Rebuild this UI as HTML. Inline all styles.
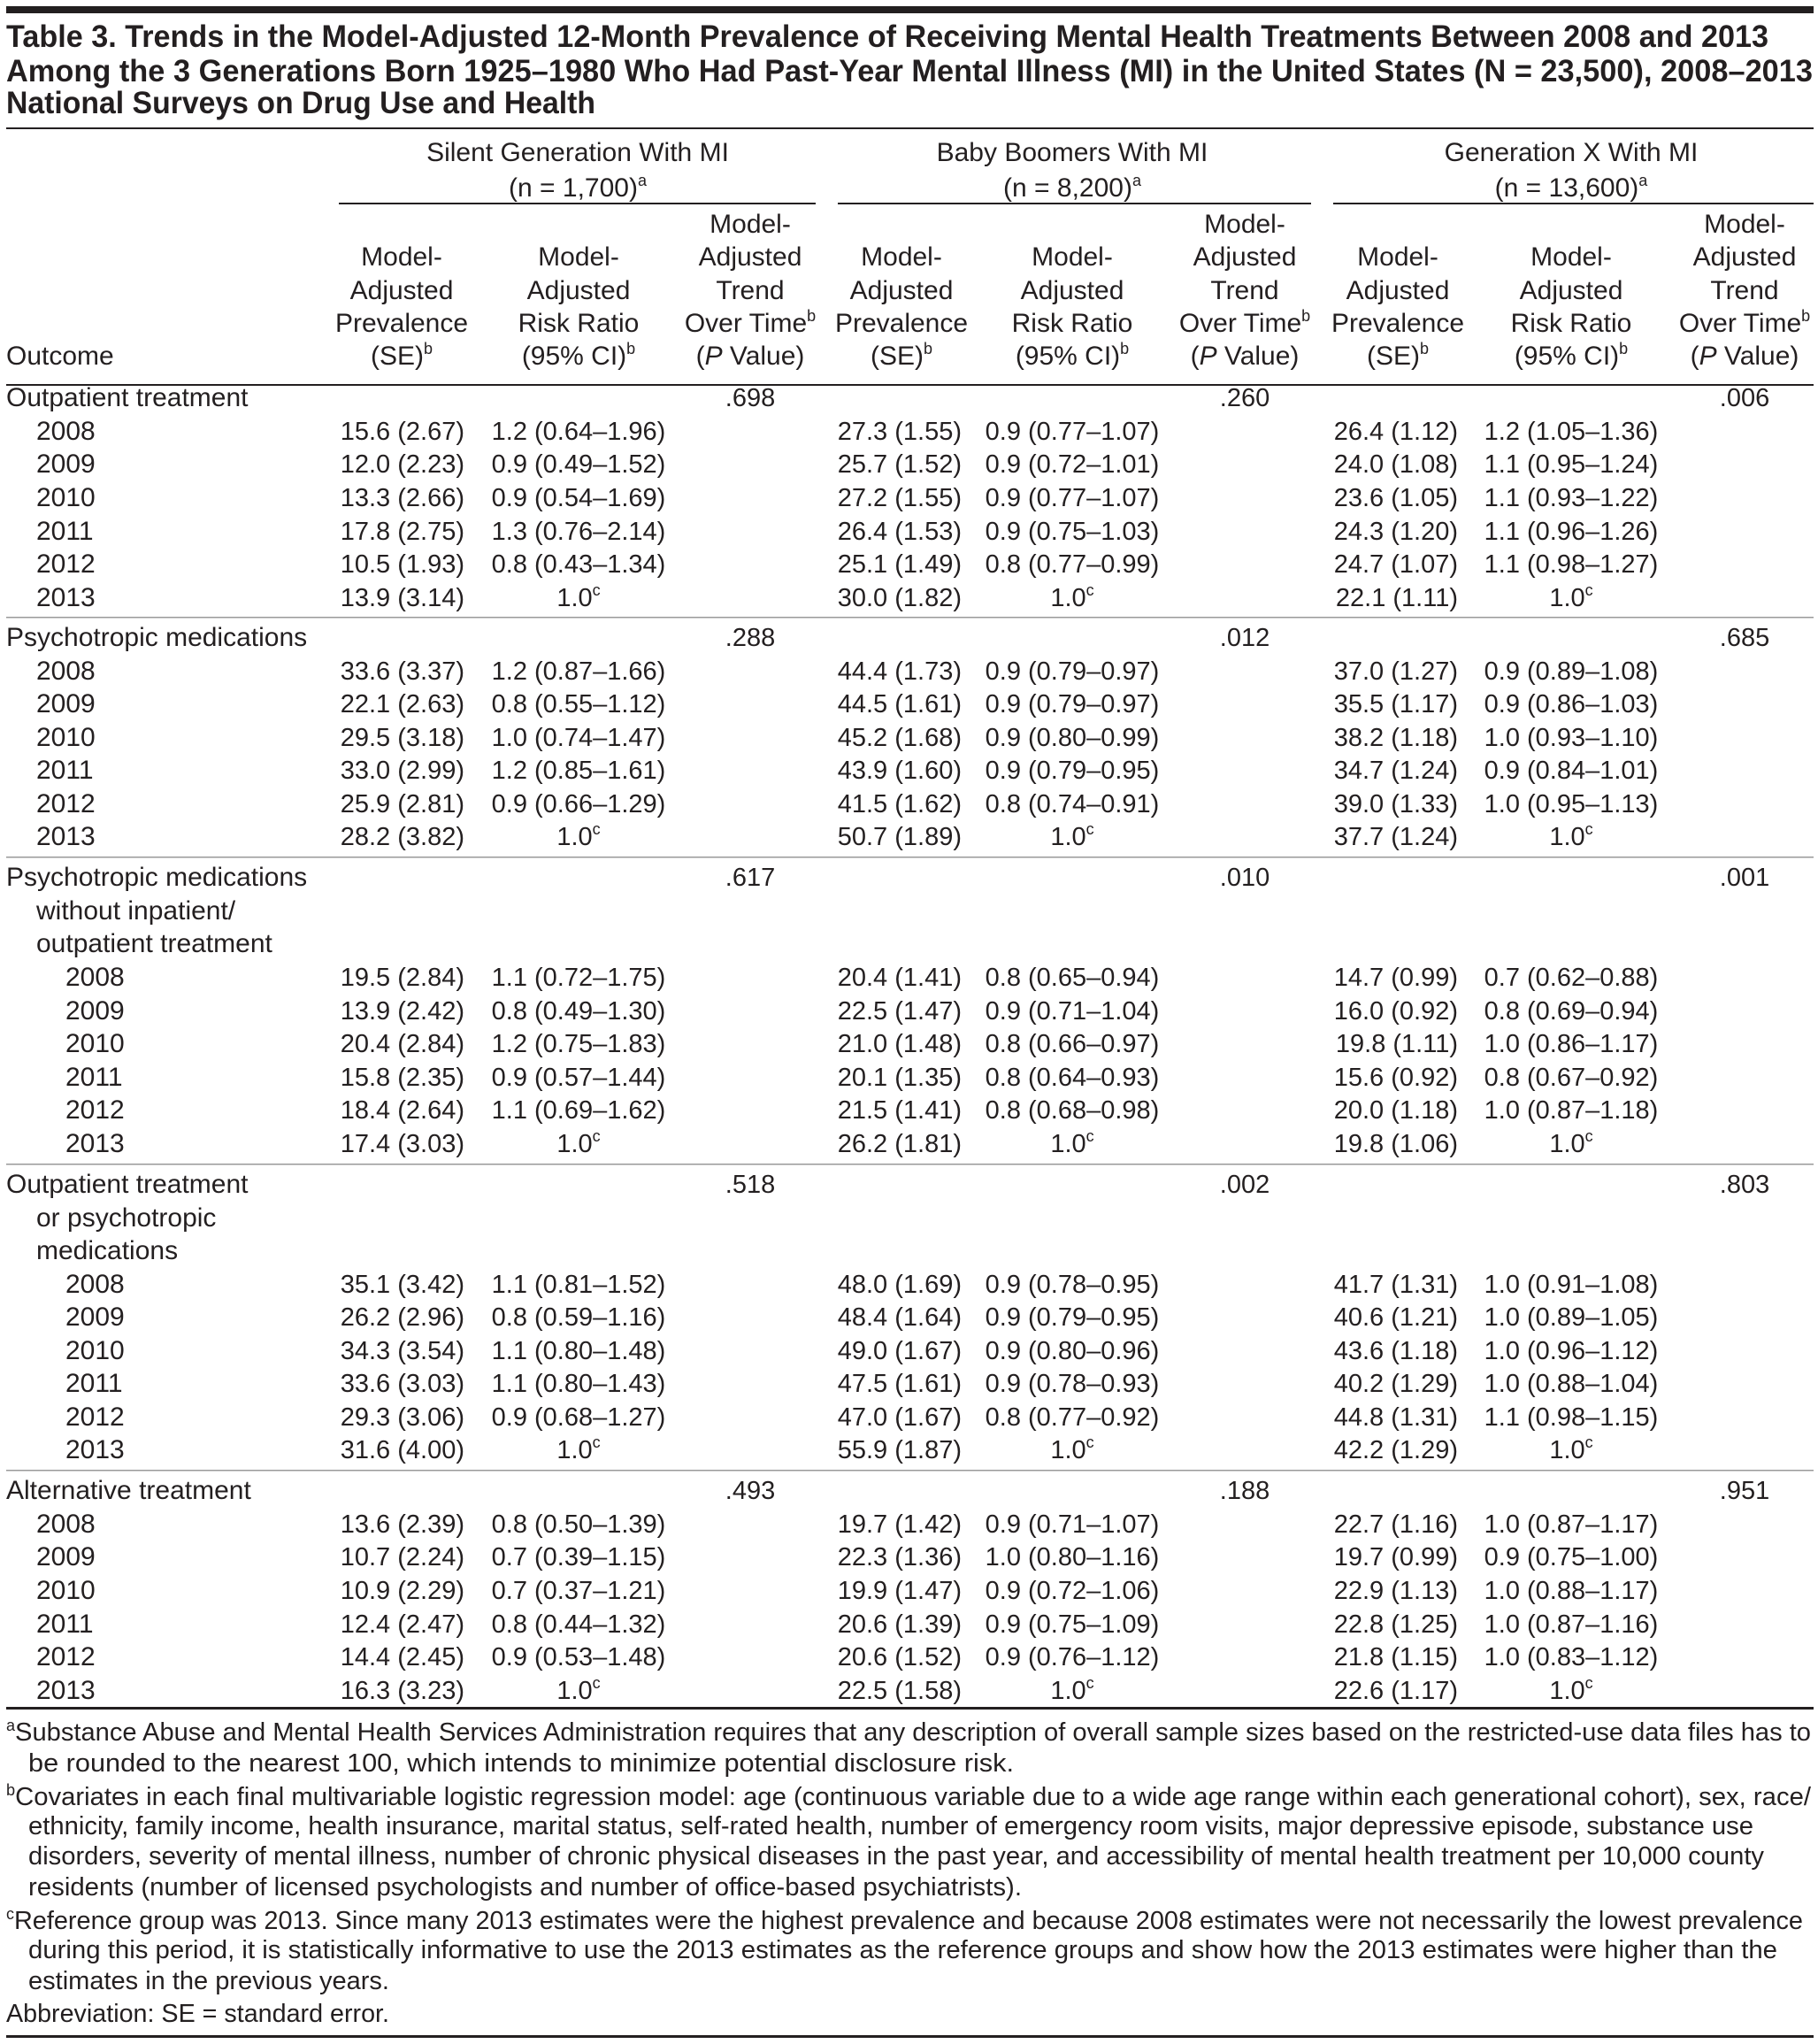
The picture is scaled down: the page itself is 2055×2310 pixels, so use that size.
<!DOCTYPE html>
<html><head><meta charset="utf-8"><style>
html,body{margin:0;padding:0;background:#fff}
svg{display:block}
text{font-family:"Liberation Sans",sans-serif;fill:#231f20}
.r{text-anchor:end}.c{text-anchor:middle}
.t{font-weight:bold;font-size:35px}
.h{font-size:30px}
.l{font-size:30px}
.d{font-size:29px}
.f{font-size:29px}
</style></head><body>
<svg width="2055" height="2310" viewBox="0 0 2055 2310" xmlns="http://www.w3.org/2000/svg">
<rect x="7" y="7" width="2043" height="8" fill="#231f20"/>
<text class="t" x="7" y="53" textLength="1992" lengthAdjust="spacingAndGlyphs">Table 3. Trends in the Model-Adjusted 12-Month Prevalence of Receiving Mental Health Treatments Between 2008 and 2013</text>
<text class="t" x="7" y="92" textLength="2042" lengthAdjust="spacingAndGlyphs">Among the 3 Generations Born 1925–1980 Who Had Past-Year Mental Illness (MI) in the United States (N = 23,500), 2008–2013</text>
<text class="t" x="7" y="128" textLength="666" lengthAdjust="spacingAndGlyphs">National Surveys on Drug Use and Health</text>
<rect x="7" y="144" width="2043" height="2" fill="#231f20"/>

<g class="h">
<text class="c" x="653" y="182">Silent Generation With MI</text>
<text class="c" x="653" y="222">(n = 1,700)<tspan font-size="18" dy="-12">a</tspan></text>
<text class="c" x="1212" y="182">Baby Boomers With MI</text>
<text class="c" x="1212" y="222">(n = 8,200)<tspan font-size="18" dy="-12">a</tspan></text>
<text class="c" x="1776" y="182">Generation X With MI</text>
<text class="c" x="1776" y="222">(n = 13,600)<tspan font-size="18" dy="-12">a</tspan></text>
</g>
<rect x="383" y="229" width="539" height="2" fill="#231f20"/>
<rect x="947" y="229" width="535" height="2" fill="#231f20"/>
<rect x="1507" y="229" width="543" height="2" fill="#231f20"/>

<g class="h">
<text x="7" y="412">Outcome</text>
<text class="c" x="454" y="300">Model-</text><text class="c" x="454" y="338">Adjusted</text><text class="c" x="454" y="375">Prevalence</text><text class="c" x="454" y="412">(SE)<tspan font-size="18" dy="-12">b</tspan></text>
<text class="c" x="654" y="300">Model-</text><text class="c" x="654" y="338">Adjusted</text><text class="c" x="654" y="375">Risk Ratio</text><text class="c" x="654" y="412">(95% CI)<tspan font-size="18" dy="-12">b</tspan></text>
<text class="c" x="848" y="263">Model-</text><text class="c" x="848" y="300">Adjusted</text><text class="c" x="848" y="338">Trend</text><text class="c" x="848" y="375">Over Time<tspan font-size="18" dy="-12">b</tspan></text><text class="c" x="848" y="412">(<tspan font-style="italic">P</tspan> Value)</text>
<text class="c" x="1019" y="300">Model-</text><text class="c" x="1019" y="338">Adjusted</text><text class="c" x="1019" y="375">Prevalence</text><text class="c" x="1019" y="412">(SE)<tspan font-size="18" dy="-12">b</tspan></text>
<text class="c" x="1212" y="300">Model-</text><text class="c" x="1212" y="338">Adjusted</text><text class="c" x="1212" y="375">Risk Ratio</text><text class="c" x="1212" y="412">(95% CI)<tspan font-size="18" dy="-12">b</tspan></text>
<text class="c" x="1407" y="263">Model-</text><text class="c" x="1407" y="300">Adjusted</text><text class="c" x="1407" y="338">Trend</text><text class="c" x="1407" y="375">Over Time<tspan font-size="18" dy="-12">b</tspan></text><text class="c" x="1407" y="412">(<tspan font-style="italic">P</tspan> Value)</text>
<text class="c" x="1580" y="300">Model-</text><text class="c" x="1580" y="338">Adjusted</text><text class="c" x="1580" y="375">Prevalence</text><text class="c" x="1580" y="412">(SE)<tspan font-size="18" dy="-12">b</tspan></text>
<text class="c" x="1776" y="300">Model-</text><text class="c" x="1776" y="338">Adjusted</text><text class="c" x="1776" y="375">Risk Ratio</text><text class="c" x="1776" y="412">(95% CI)<tspan font-size="18" dy="-12">b</tspan></text>
<text class="c" x="1972" y="263">Model-</text><text class="c" x="1972" y="300">Adjusted</text><text class="c" x="1972" y="338">Trend</text><text class="c" x="1972" y="375">Over Time<tspan font-size="18" dy="-12">b</tspan></text><text class="c" x="1972" y="412">(<tspan font-style="italic">P</tspan> Value)</text>
</g>
<rect x="7" y="434" width="2043" height="2" fill="#231f20"/>

<g class="l">
<text x="7" y="459">Outpatient treatment</text>
<text x="41" y="497">2008</text><text x="41" y="534">2009</text><text x="41" y="572">2010</text><text x="41" y="610">2011</text><text x="41" y="647">2012</text><text x="41" y="685">2013</text>
<text x="7" y="730">Psychotropic medications</text>
<text x="41" y="768">2008</text><text x="41" y="805">2009</text><text x="41" y="843">2010</text><text x="41" y="880">2011</text><text x="41" y="918">2012</text><text x="41" y="955">2013</text>
<text x="7" y="1001">Psychotropic medications</text>
<text x="41" y="1039">without  inpatient/</text>
<text x="41" y="1076">outpatient treatment</text>
<text x="74" y="1114">2008</text><text x="74" y="1152">2009</text><text x="74" y="1189">2010</text><text x="74" y="1227">2011</text><text x="74" y="1264">2012</text><text x="74" y="1302">2013</text>
<text x="7" y="1348">Outpatient treatment</text>
<text x="41" y="1386">or psychotropic</text>
<text x="41" y="1423">medications</text>
<text x="74" y="1461">2008</text><text x="74" y="1498">2009</text><text x="74" y="1536">2010</text><text x="74" y="1573">2011</text><text x="74" y="1611">2012</text><text x="74" y="1648">2013</text>
<text x="7" y="1694">Alternative treatment</text>
<text x="41" y="1732">2008</text><text x="41" y="1769">2009</text><text x="41" y="1807">2010</text><text x="41" y="1845">2011</text><text x="41" y="1882">2012</text><text x="41" y="1920">2013</text>
</g>

<rect x="7" y="697" width="2043" height="1.5" fill="#9a9a9a"/>
<rect x="7" y="968" width="2043" height="1.5" fill="#9a9a9a"/>
<rect x="7" y="1315" width="2043" height="1.5" fill="#9a9a9a"/>
<rect x="7" y="1661" width="2043" height="1.5" fill="#9a9a9a"/>
<rect x="7" y="1929" width="2043" height="3" fill="#231f20"/>

<g class="d">
<text class="c" x="848" y="459">.698</text><text class="c" x="1407" y="459">.260</text><text class="c" x="1972" y="459">.006</text>
<text class="r" x="525" y="497">15.6 (2.67)</text><text class="c" x="654" y="497">1.2 (0.64–1.96)</text><text class="r" x="1087" y="497">27.3 (1.55)</text><text class="c" x="1212" y="497">0.9 (0.77–1.07)</text><text class="r" x="1648" y="497">26.4 (1.12)</text><text class="c" x="1776" y="497">1.2 (1.05–1.36)</text>
<text class="r" x="525" y="534">12.0 (2.23)</text><text class="c" x="654" y="534">0.9 (0.49–1.52)</text><text class="r" x="1087" y="534">25.7 (1.52)</text><text class="c" x="1212" y="534">0.9 (0.72–1.01)</text><text class="r" x="1648" y="534">24.0 (1.08)</text><text class="c" x="1776" y="534">1.1 (0.95–1.24)</text>
<text class="r" x="525" y="572">13.3 (2.66)</text><text class="c" x="654" y="572">0.9 (0.54–1.69)</text><text class="r" x="1087" y="572">27.2 (1.55)</text><text class="c" x="1212" y="572">0.9 (0.77–1.07)</text><text class="r" x="1648" y="572">23.6 (1.05)</text><text class="c" x="1776" y="572">1.1 (0.93–1.22)</text>
<text class="r" x="525" y="610">17.8 (2.75)</text><text class="c" x="654" y="610">1.3 (0.76–2.14)</text><text class="r" x="1087" y="610">26.4 (1.53)</text><text class="c" x="1212" y="610">0.9 (0.75–1.03)</text><text class="r" x="1648" y="610">24.3 (1.20)</text><text class="c" x="1776" y="610">1.1 (0.96–1.26)</text>
<text class="r" x="525" y="647">10.5 (1.93)</text><text class="c" x="654" y="647">0.8 (0.43–1.34)</text><text class="r" x="1087" y="647">25.1 (1.49)</text><text class="c" x="1212" y="647">0.8 (0.77–0.99)</text><text class="r" x="1648" y="647">24.7 (1.07)</text><text class="c" x="1776" y="647">1.1 (0.98–1.27)</text>
<text class="r" x="525" y="685">13.9 (3.14)</text><text class="c" x="654" y="685">1.0<tspan font-size="18" dy="-12">c</tspan></text><text class="r" x="1087" y="685">30.0 (1.82)</text><text class="c" x="1212" y="685">1.0<tspan font-size="18" dy="-12">c</tspan></text><text class="r" x="1648" y="685">22.1 (1.11)</text><text class="c" x="1776" y="685">1.0<tspan font-size="18" dy="-12">c</tspan></text>
<text class="c" x="848" y="730">.288</text><text class="c" x="1407" y="730">.012</text><text class="c" x="1972" y="730">.685</text>
<text class="r" x="525" y="768">33.6 (3.37)</text><text class="c" x="654" y="768">1.2 (0.87–1.66)</text><text class="r" x="1087" y="768">44.4 (1.73)</text><text class="c" x="1212" y="768">0.9 (0.79–0.97)</text><text class="r" x="1648" y="768">37.0 (1.27)</text><text class="c" x="1776" y="768">0.9 (0.89–1.08)</text>
<text class="r" x="525" y="805">22.1 (2.63)</text><text class="c" x="654" y="805">0.8 (0.55–1.12)</text><text class="r" x="1087" y="805">44.5 (1.61)</text><text class="c" x="1212" y="805">0.9 (0.79–0.97)</text><text class="r" x="1648" y="805">35.5 (1.17)</text><text class="c" x="1776" y="805">0.9 (0.86–1.03)</text>
<text class="r" x="525" y="843">29.5 (3.18)</text><text class="c" x="654" y="843">1.0 (0.74–1.47)</text><text class="r" x="1087" y="843">45.2 (1.68)</text><text class="c" x="1212" y="843">0.9 (0.80–0.99)</text><text class="r" x="1648" y="843">38.2 (1.18)</text><text class="c" x="1776" y="843">1.0 (0.93–1.10)</text>
<text class="r" x="525" y="880">33.0 (2.99)</text><text class="c" x="654" y="880">1.2 (0.85–1.61)</text><text class="r" x="1087" y="880">43.9 (1.60)</text><text class="c" x="1212" y="880">0.9 (0.79–0.95)</text><text class="r" x="1648" y="880">34.7 (1.24)</text><text class="c" x="1776" y="880">0.9 (0.84–1.01)</text>
<text class="r" x="525" y="918">25.9 (2.81)</text><text class="c" x="654" y="918">0.9 (0.66–1.29)</text><text class="r" x="1087" y="918">41.5 (1.62)</text><text class="c" x="1212" y="918">0.8 (0.74–0.91)</text><text class="r" x="1648" y="918">39.0 (1.33)</text><text class="c" x="1776" y="918">1.0 (0.95–1.13)</text>
<text class="r" x="525" y="955">28.2 (3.82)</text><text class="c" x="654" y="955">1.0<tspan font-size="18" dy="-12">c</tspan></text><text class="r" x="1087" y="955">50.7 (1.89)</text><text class="c" x="1212" y="955">1.0<tspan font-size="18" dy="-12">c</tspan></text><text class="r" x="1648" y="955">37.7 (1.24)</text><text class="c" x="1776" y="955">1.0<tspan font-size="18" dy="-12">c</tspan></text>
<text class="c" x="848" y="1001">.617</text><text class="c" x="1407" y="1001">.010</text><text class="c" x="1972" y="1001">.001</text>
<text class="r" x="525" y="1114">19.5 (2.84)</text><text class="c" x="654" y="1114">1.1 (0.72–1.75)</text><text class="r" x="1087" y="1114">20.4 (1.41)</text><text class="c" x="1212" y="1114">0.8 (0.65–0.94)</text><text class="r" x="1648" y="1114">14.7 (0.99)</text><text class="c" x="1776" y="1114">0.7 (0.62–0.88)</text>
<text class="r" x="525" y="1152">13.9 (2.42)</text><text class="c" x="654" y="1152">0.8 (0.49–1.30)</text><text class="r" x="1087" y="1152">22.5 (1.47)</text><text class="c" x="1212" y="1152">0.9 (0.71–1.04)</text><text class="r" x="1648" y="1152">16.0 (0.92)</text><text class="c" x="1776" y="1152">0.8 (0.69–0.94)</text>
<text class="r" x="525" y="1189">20.4 (2.84)</text><text class="c" x="654" y="1189">1.2 (0.75–1.83)</text><text class="r" x="1087" y="1189">21.0 (1.48)</text><text class="c" x="1212" y="1189">0.8 (0.66–0.97)</text><text class="r" x="1648" y="1189">19.8 (1.11)</text><text class="c" x="1776" y="1189">1.0 (0.86–1.17)</text>
<text class="r" x="525" y="1227">15.8 (2.35)</text><text class="c" x="654" y="1227">0.9 (0.57–1.44)</text><text class="r" x="1087" y="1227">20.1 (1.35)</text><text class="c" x="1212" y="1227">0.8 (0.64–0.93)</text><text class="r" x="1648" y="1227">15.6 (0.92)</text><text class="c" x="1776" y="1227">0.8 (0.67–0.92)</text>
<text class="r" x="525" y="1264">18.4 (2.64)</text><text class="c" x="654" y="1264">1.1 (0.69–1.62)</text><text class="r" x="1087" y="1264">21.5 (1.41)</text><text class="c" x="1212" y="1264">0.8 (0.68–0.98)</text><text class="r" x="1648" y="1264">20.0 (1.18)</text><text class="c" x="1776" y="1264">1.0 (0.87–1.18)</text>
<text class="r" x="525" y="1302">17.4 (3.03)</text><text class="c" x="654" y="1302">1.0<tspan font-size="18" dy="-12">c</tspan></text><text class="r" x="1087" y="1302">26.2 (1.81)</text><text class="c" x="1212" y="1302">1.0<tspan font-size="18" dy="-12">c</tspan></text><text class="r" x="1648" y="1302">19.8 (1.06)</text><text class="c" x="1776" y="1302">1.0<tspan font-size="18" dy="-12">c</tspan></text>
<text class="c" x="848" y="1348">.518</text><text class="c" x="1407" y="1348">.002</text><text class="c" x="1972" y="1348">.803</text>
<text class="r" x="525" y="1461">35.1 (3.42)</text><text class="c" x="654" y="1461">1.1 (0.81–1.52)</text><text class="r" x="1087" y="1461">48.0 (1.69)</text><text class="c" x="1212" y="1461">0.9 (0.78–0.95)</text><text class="r" x="1648" y="1461">41.7 (1.31)</text><text class="c" x="1776" y="1461">1.0 (0.91–1.08)</text>
<text class="r" x="525" y="1498">26.2 (2.96)</text><text class="c" x="654" y="1498">0.8 (0.59–1.16)</text><text class="r" x="1087" y="1498">48.4 (1.64)</text><text class="c" x="1212" y="1498">0.9 (0.79–0.95)</text><text class="r" x="1648" y="1498">40.6 (1.21)</text><text class="c" x="1776" y="1498">1.0 (0.89–1.05)</text>
<text class="r" x="525" y="1536">34.3 (3.54)</text><text class="c" x="654" y="1536">1.1 (0.80–1.48)</text><text class="r" x="1087" y="1536">49.0 (1.67)</text><text class="c" x="1212" y="1536">0.9 (0.80–0.96)</text><text class="r" x="1648" y="1536">43.6 (1.18)</text><text class="c" x="1776" y="1536">1.0 (0.96–1.12)</text>
<text class="r" x="525" y="1573">33.6 (3.03)</text><text class="c" x="654" y="1573">1.1 (0.80–1.43)</text><text class="r" x="1087" y="1573">47.5 (1.61)</text><text class="c" x="1212" y="1573">0.9 (0.78–0.93)</text><text class="r" x="1648" y="1573">40.2 (1.29)</text><text class="c" x="1776" y="1573">1.0 (0.88–1.04)</text>
<text class="r" x="525" y="1611">29.3 (3.06)</text><text class="c" x="654" y="1611">0.9 (0.68–1.27)</text><text class="r" x="1087" y="1611">47.0 (1.67)</text><text class="c" x="1212" y="1611">0.8 (0.77–0.92)</text><text class="r" x="1648" y="1611">44.8 (1.31)</text><text class="c" x="1776" y="1611">1.1 (0.98–1.15)</text>
<text class="r" x="525" y="1648">31.6 (4.00)</text><text class="c" x="654" y="1648">1.0<tspan font-size="18" dy="-12">c</tspan></text><text class="r" x="1087" y="1648">55.9 (1.87)</text><text class="c" x="1212" y="1648">1.0<tspan font-size="18" dy="-12">c</tspan></text><text class="r" x="1648" y="1648">42.2 (1.29)</text><text class="c" x="1776" y="1648">1.0<tspan font-size="18" dy="-12">c</tspan></text>
<text class="c" x="848" y="1694">.493</text><text class="c" x="1407" y="1694">.188</text><text class="c" x="1972" y="1694">.951</text>
<text class="r" x="525" y="1732">13.6 (2.39)</text><text class="c" x="654" y="1732">0.8 (0.50–1.39)</text><text class="r" x="1087" y="1732">19.7 (1.42)</text><text class="c" x="1212" y="1732">0.9 (0.71–1.07)</text><text class="r" x="1648" y="1732">22.7 (1.16)</text><text class="c" x="1776" y="1732">1.0 (0.87–1.17)</text>
<text class="r" x="525" y="1769">10.7 (2.24)</text><text class="c" x="654" y="1769">0.7 (0.39–1.15)</text><text class="r" x="1087" y="1769">22.3 (1.36)</text><text class="c" x="1212" y="1769">1.0 (0.80–1.16)</text><text class="r" x="1648" y="1769">19.7 (0.99)</text><text class="c" x="1776" y="1769">0.9 (0.75–1.00)</text>
<text class="r" x="525" y="1807">10.9 (2.29)</text><text class="c" x="654" y="1807">0.7 (0.37–1.21)</text><text class="r" x="1087" y="1807">19.9 (1.47)</text><text class="c" x="1212" y="1807">0.9 (0.72–1.06)</text><text class="r" x="1648" y="1807">22.9 (1.13)</text><text class="c" x="1776" y="1807">1.0 (0.88–1.17)</text>
<text class="r" x="525" y="1845">12.4 (2.47)</text><text class="c" x="654" y="1845">0.8 (0.44–1.32)</text><text class="r" x="1087" y="1845">20.6 (1.39)</text><text class="c" x="1212" y="1845">0.9 (0.75–1.09)</text><text class="r" x="1648" y="1845">22.8 (1.25)</text><text class="c" x="1776" y="1845">1.0 (0.87–1.16)</text>
<text class="r" x="525" y="1882">14.4 (2.45)</text><text class="c" x="654" y="1882">0.9 (0.53–1.48)</text><text class="r" x="1087" y="1882">20.6 (1.52)</text><text class="c" x="1212" y="1882">0.9 (0.76–1.12)</text><text class="r" x="1648" y="1882">21.8 (1.15)</text><text class="c" x="1776" y="1882">1.0 (0.83–1.12)</text>
<text class="r" x="525" y="1920">16.3 (3.23)</text><text class="c" x="654" y="1920">1.0<tspan font-size="18" dy="-12">c</tspan></text><text class="r" x="1087" y="1920">22.5 (1.58)</text><text class="c" x="1212" y="1920">1.0<tspan font-size="18" dy="-12">c</tspan></text><text class="r" x="1648" y="1920">22.6 (1.17)</text><text class="c" x="1776" y="1920">1.0<tspan font-size="18" dy="-12">c</tspan></text>
</g>

<g class="f">
<text x="7" y="1967" textLength="2040" lengthAdjust="spacingAndGlyphs"><tspan font-size="18" dy="-11">a</tspan><tspan dy="11">Substance Abuse and Mental Health Services Administration requires that any description of overall sample sizes based on the restricted-use data files has to</tspan></text>
<text x="32" y="2002" textLength="1114" lengthAdjust="spacingAndGlyphs">be rounded to the nearest 100, which intends to minimize potential disclosure risk.</text>
<text x="7" y="2040" textLength="2040" lengthAdjust="spacingAndGlyphs"><tspan font-size="18" dy="-11">b</tspan><tspan dy="11">Covariates in each final multivariable logistic regression model: age (continuous variable due to a wide age range within each generational cohort), sex, race/</tspan></text>
<text x="32" y="2073" textLength="1950" lengthAdjust="spacingAndGlyphs">ethnicity, family income, health insurance, marital status, self-rated health, number of emergency room visits, major depressive episode, substance use</text>
<text x="32" y="2107" textLength="1962" lengthAdjust="spacingAndGlyphs">disorders, severity of mental illness, number of chronic physical diseases in the past year, and accessibility of mental health treatment per 10,000 county</text>
<text x="32" y="2142" textLength="1123" lengthAdjust="spacingAndGlyphs">residents (number of licensed psychologists and number of office-based psychiatrists).</text>
<text x="7" y="2180" textLength="2031" lengthAdjust="spacingAndGlyphs"><tspan font-size="18" dy="-11">c</tspan><tspan dy="11">Reference group was 2013. Since many 2013 estimates were the highest prevalence and because 2008 estimates were not necessarily the lowest prevalence</tspan></text>
<text x="32" y="2213" textLength="1977" lengthAdjust="spacingAndGlyphs">during this period, it is statistically informative to use the 2013 estimates as the reference groups and show how the 2013 estimates were higher than the</text>
<text x="32" y="2248" textLength="408" lengthAdjust="spacingAndGlyphs">estimates in the previous years.</text>
<text x="7" y="2285" textLength="433" lengthAdjust="spacingAndGlyphs">Abbreviation: SE = standard error.</text>
</g>
<rect x="7" y="2300" width="2043" height="3" fill="#231f20"/>
</svg>
</body></html>
